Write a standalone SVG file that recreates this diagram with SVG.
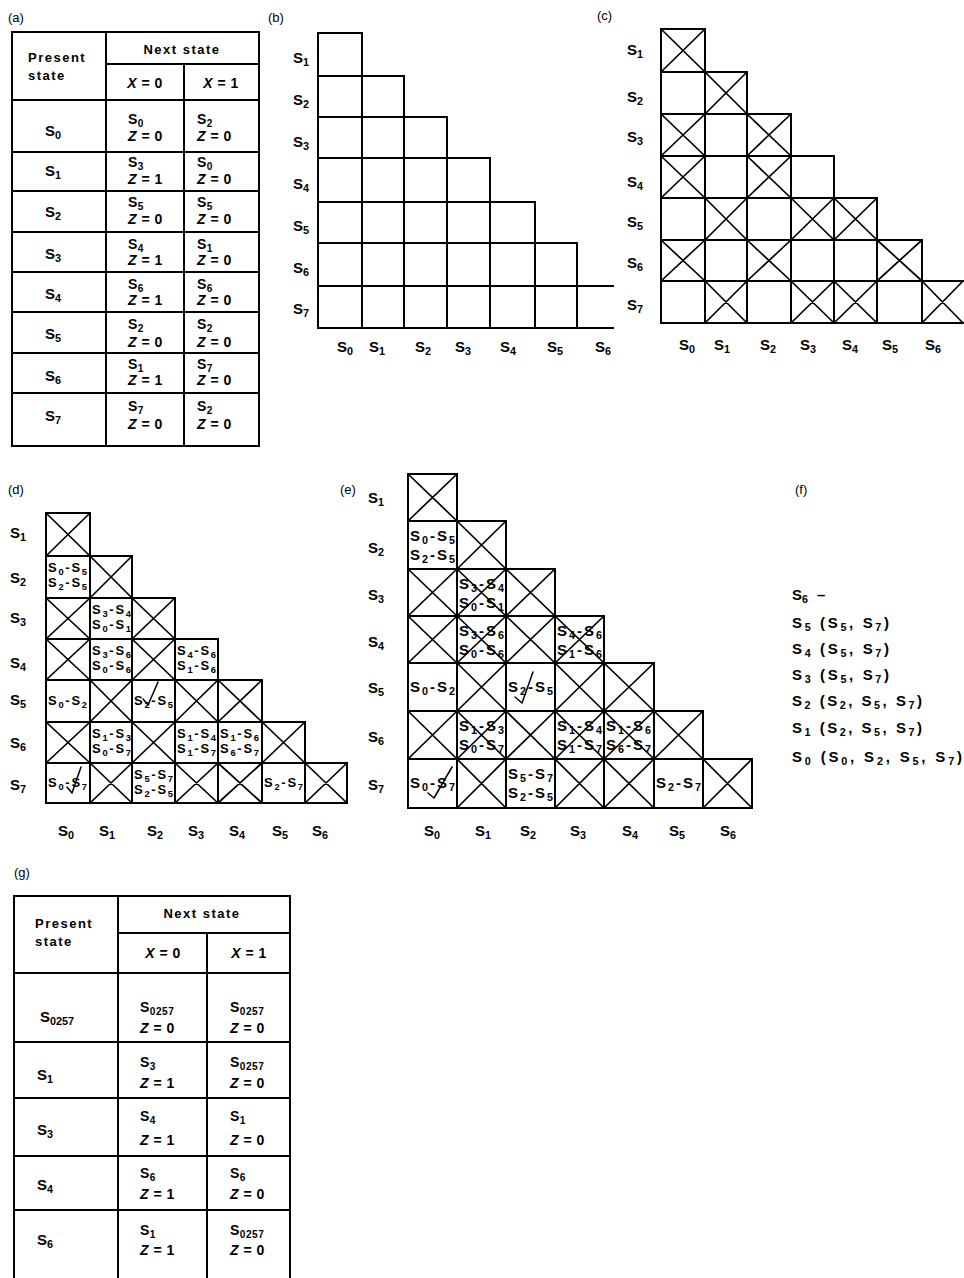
<svg xmlns="http://www.w3.org/2000/svg" width="964" height="1278" viewBox="0 0 964 1278">
<style>
.ln{fill:none;stroke:#000;stroke-width:2;stroke-linecap:square}
.x{fill:none;stroke:#000;stroke-width:1.7}
.ck{fill:none;stroke:#000;stroke-width:1.5;stroke-linejoin:round;stroke-linecap:round}
text{font-family:"Liberation Sans",Arial,sans-serif;font-weight:bold;fill:#000}
.u{font-size:0.72em;baseline-shift:-3px}
.pl{font-size:13px;font-weight:normal}
.h{font-size:13px;letter-spacing:1.5px}
.c{font-size:14px;letter-spacing:0.5px}
.lb{font-size:15px}
.ct{font-size:13px}
.et{font-size:15px}
.fl{font-size:15px}
.m{text-anchor:middle}
.i{font-style:italic}
</style>

<g id="panel-a">
<text class="pl" x="8" y="22">(a)</text>
<path class="ln" d="M12 32 H259 V446 H12 Z M106 32 V446 M184 64 V446 M106 64 H259 M12 100 H259 M12 152 H259 M12 191 H259 M12 232 H259 M12 272 H259 M12 312 H259 M12 353 H259 M12 393 H259"/>
<text class="h" x="28" y="62">Present</text>
<text class="h" x="28" y="80">state</text>
<text class="h m" x="182" y="54">Next state</text>
<text class="c m" x="145" y="88"><tspan class="i">X</tspan> = 0</text>
<text class="c m" x="221" y="88"><tspan class="i">X</tspan> = 1</text>
<text class="lb" x="45" y="136">S<tspan class="u">0</tspan></text>
<text class="c" x="128" y="124">S<tspan class="u">0</tspan></text>
<text class="c" x="128" y="141"><tspan class="i">Z</tspan> = 0</text>
<text class="c" x="197" y="124">S<tspan class="u">2</tspan></text>
<text class="c" x="197" y="141"><tspan class="i">Z</tspan> = 0</text>
<text class="lb" x="45" y="176">S<tspan class="u">1</tspan></text>
<text class="c" x="128" y="167">S<tspan class="u">3</tspan></text>
<text class="c" x="128" y="184"><tspan class="i">Z</tspan> = 1</text>
<text class="c" x="197" y="167">S<tspan class="u">0</tspan></text>
<text class="c" x="197" y="184"><tspan class="i">Z</tspan> = 0</text>
<text class="lb" x="45" y="217">S<tspan class="u">2</tspan></text>
<text class="c" x="128" y="207">S<tspan class="u">5</tspan></text>
<text class="c" x="128" y="224"><tspan class="i">Z</tspan> = 0</text>
<text class="c" x="197" y="207">S<tspan class="u">5</tspan></text>
<text class="c" x="197" y="224"><tspan class="i">Z</tspan> = 0</text>
<text class="lb" x="45" y="259">S<tspan class="u">3</tspan></text>
<text class="c" x="128" y="249">S<tspan class="u">4</tspan></text>
<text class="c" x="128" y="265"><tspan class="i">Z</tspan> = 1</text>
<text class="c" x="197" y="249">S<tspan class="u">1</tspan></text>
<text class="c" x="197" y="265"><tspan class="i">Z</tspan> = 0</text>
<text class="lb" x="45" y="299">S<tspan class="u">4</tspan></text>
<text class="c" x="128" y="289">S<tspan class="u">6</tspan></text>
<text class="c" x="128" y="305"><tspan class="i">Z</tspan> = 1</text>
<text class="c" x="197" y="289">S<tspan class="u">6</tspan></text>
<text class="c" x="197" y="305"><tspan class="i">Z</tspan> = 0</text>
<text class="lb" x="45" y="339">S<tspan class="u">5</tspan></text>
<text class="c" x="128" y="329">S<tspan class="u">2</tspan></text>
<text class="c" x="128" y="347"><tspan class="i">Z</tspan> = 0</text>
<text class="c" x="197" y="329">S<tspan class="u">2</tspan></text>
<text class="c" x="197" y="347"><tspan class="i">Z</tspan> = 0</text>
<text class="lb" x="45" y="381">S<tspan class="u">6</tspan></text>
<text class="c" x="128" y="369">S<tspan class="u">1</tspan></text>
<text class="c" x="128" y="385"><tspan class="i">Z</tspan> = 1</text>
<text class="c" x="197" y="369">S<tspan class="u">7</tspan></text>
<text class="c" x="197" y="385"><tspan class="i">Z</tspan> = 0</text>
<text class="lb" x="45" y="421">S<tspan class="u">7</tspan></text>
<text class="c" x="128" y="411">S<tspan class="u">7</tspan></text>
<text class="c" x="128" y="429"><tspan class="i">Z</tspan> = 0</text>
<text class="c" x="197" y="411">S<tspan class="u">2</tspan></text>
<text class="c" x="197" y="429"><tspan class="i">Z</tspan> = 0</text>
</g>

<g id="panel-b">
<text class="pl" x="268" y="22">(b)</text>
<path class="ln" d="M318 33 H362 M318 76 H404 M318 117 H447 M318 158 H490 M318 202 H535 M318 243 H577 M318 286 H613 M318 328 H613 M318 33 V328 M362 33 V328 M404 76 V328 M447 117 V328 M490 158 V328 M535 202 V328 M577 243 V328"/>
<text class="lb" x="293" y="63">S<tspan class="u">1</tspan></text>
<text class="lb" x="293" y="105">S<tspan class="u">2</tspan></text>
<text class="lb" x="293" y="147">S<tspan class="u">3</tspan></text>
<text class="lb" x="293" y="189">S<tspan class="u">4</tspan></text>
<text class="lb" x="293" y="231">S<tspan class="u">5</tspan></text>
<text class="lb" x="293" y="273">S<tspan class="u">6</tspan></text>
<text class="lb" x="293" y="314">S<tspan class="u">7</tspan></text>
<text class="lb m" x="345" y="352">S<tspan class="u">0</tspan></text>
<text class="lb m" x="377" y="352">S<tspan class="u">1</tspan></text>
<text class="lb m" x="423" y="352">S<tspan class="u">2</tspan></text>
<text class="lb m" x="463" y="352">S<tspan class="u">3</tspan></text>
<text class="lb m" x="508" y="352">S<tspan class="u">4</tspan></text>
<text class="lb m" x="555" y="352">S<tspan class="u">5</tspan></text>
<text class="lb m" x="603" y="352">S<tspan class="u">6</tspan></text>
</g>

<g id="panel-c">
<text class="pl" x="597" y="20">(c)</text>
<path class="ln" d="M661 29 H705 M661 72 H747 M661 114 H791 M661 156 H834 M661 198 H877 M661 240 H922 M661 281 H963 M661 323 H963 M661 29 V323 M705 29 V323 M747 72 V323 M791 114 V323 M834 156 V323 M877 198 V323 M922 240 V323"/>
<path class="x" d="M661 29 L705 72 M705 29 L661 72 M705 72 L747 114 M747 72 L705 114 M661 114 L705 156 M705 114 L661 156 M747 114 L791 156 M791 114 L747 156 M661 156 L705 198 M705 156 L661 198 M747 156 L791 198 M791 156 L747 198 M705 198 L747 240 M747 198 L705 240 M791 198 L834 240 M834 198 L791 240 M834 198 L877 240 M877 198 L834 240 M661 240 L705 281 M705 240 L661 281 M747 240 L791 281 M791 240 L747 281 M877 240 L922 281 M922 240 L877 281 M705 281 L747 323 M747 281 L705 323 M791 281 L834 323 M834 281 L791 323 M834 281 L877 323 M877 281 L834 323 M922 281 L963 323 M963 281 L922 323"/>
<text class="lb" x="627" y="55">S<tspan class="u">1</tspan></text>
<text class="lb" x="627" y="102">S<tspan class="u">2</tspan></text>
<text class="lb" x="627" y="142">S<tspan class="u">3</tspan></text>
<text class="lb" x="627" y="187">S<tspan class="u">4</tspan></text>
<text class="lb" x="627" y="227">S<tspan class="u">5</tspan></text>
<text class="lb" x="627" y="268">S<tspan class="u">6</tspan></text>
<text class="lb" x="627" y="310">S<tspan class="u">7</tspan></text>
<text class="lb m" x="687" y="350">S<tspan class="u">0</tspan></text>
<text class="lb m" x="722" y="350">S<tspan class="u">1</tspan></text>
<text class="lb m" x="768" y="350">S<tspan class="u">2</tspan></text>
<text class="lb m" x="808" y="350">S<tspan class="u">3</tspan></text>
<text class="lb m" x="850" y="350">S<tspan class="u">4</tspan></text>
<text class="lb m" x="890" y="350">S<tspan class="u">5</tspan></text>
<text class="lb m" x="933" y="350">S<tspan class="u">6</tspan></text>
</g>

<g id="panel-d">
<text class="pl" x="8" y="494">(d)</text>
<path class="ln" d="M46 513 H90 M46 556 H132 M46 598 H175 M46 639 H218 M46 680 H262 M46 722 H305 M46 763 H347 M46 803 H347 M46 513 V803 M90 513 V803 M132 556 V803 M175 598 V803 M218 639 V803 M262 680 V803 M305 722 V803 M347 763 V803"/>
<path class="x" d="M46 513 L90 556 M90 513 L46 556 M90 556 L132 598 M132 556 L90 598 M46 598 L90 639 M90 598 L46 639 M132 598 L175 639 M175 598 L132 639 M46 639 L90 680 M90 639 L46 680 M132 639 L175 680 M175 639 L132 680 M90 680 L132 722 M132 680 L90 722 M175 680 L218 722 M218 680 L175 722 M218 680 L262 722 M262 680 L218 722 M46 722 L90 763 M90 722 L46 763 M132 722 L175 763 M175 722 L132 763 M262 722 L305 763 M305 722 L262 763 M90 763 L132 803 M132 763 L90 803 M175 763 L218 803 M218 763 L175 803 M218 763 L262 803 M262 763 L218 803 M305 763 L347 803 M347 763 L305 803"/>
<text class="ct" x="48" y="572" textLength="39">S<tspan class="u">0</tspan>-S<tspan class="u">5</tspan></text>
<text class="ct" x="48" y="587" textLength="39">S<tspan class="u">2</tspan>-S<tspan class="u">5</tspan></text>
<text class="ct" x="92" y="614" textLength="39">S<tspan class="u">3</tspan>-S<tspan class="u">4</tspan></text>
<text class="ct" x="92" y="629" textLength="39">S<tspan class="u">0</tspan>-S<tspan class="u">1</tspan></text>
<text class="ct" x="92" y="655" textLength="39">S<tspan class="u">3</tspan>-S<tspan class="u">6</tspan></text>
<text class="ct" x="92" y="670" textLength="39">S<tspan class="u">0</tspan>-S<tspan class="u">6</tspan></text>
<text class="ct" x="177" y="655" textLength="39">S<tspan class="u">4</tspan>-S<tspan class="u">6</tspan></text>
<text class="ct" x="177" y="670" textLength="39">S<tspan class="u">1</tspan>-S<tspan class="u">6</tspan></text>
<text class="ct" x="48" y="705" textLength="39">S<tspan class="u">0</tspan>-S<tspan class="u">2</tspan></text>
<text class="ct" x="134" y="705" textLength="39">S<tspan class="u">2</tspan>-S<tspan class="u">5</tspan></text>
<text class="ct" x="92" y="738" textLength="39">S<tspan class="u">1</tspan>-S<tspan class="u">3</tspan></text>
<text class="ct" x="92" y="753" textLength="39">S<tspan class="u">0</tspan>-S<tspan class="u">7</tspan></text>
<text class="ct" x="177" y="738" textLength="39">S<tspan class="u">1</tspan>-S<tspan class="u">4</tspan></text>
<text class="ct" x="177" y="753" textLength="39">S<tspan class="u">1</tspan>-S<tspan class="u">7</tspan></text>
<text class="ct" x="220" y="738" textLength="39">S<tspan class="u">1</tspan>-S<tspan class="u">6</tspan></text>
<text class="ct" x="220" y="753" textLength="39">S<tspan class="u">6</tspan>-S<tspan class="u">7</tspan></text>
<text class="ct" x="48" y="787" textLength="39">S<tspan class="u">0</tspan>-S<tspan class="u">7</tspan></text>
<text class="ct" x="134" y="779" textLength="39">S<tspan class="u">5</tspan>-S<tspan class="u">7</tspan></text>
<text class="ct" x="134" y="794" textLength="39">S<tspan class="u">2</tspan>-S<tspan class="u">5</tspan></text>
<text class="ct" x="264" y="787" textLength="39">S<tspan class="u">2</tspan>-S<tspan class="u">7</tspan></text>
<path class="ck" d="M143 699 L148 705 L158 682 M67 787 L72 793 L81 767"/>
<text class="lb" x="10" y="538">S<tspan class="u">1</tspan></text>
<text class="lb" x="10" y="583">S<tspan class="u">2</tspan></text>
<text class="lb" x="10" y="623">S<tspan class="u">3</tspan></text>
<text class="lb" x="10" y="668">S<tspan class="u">4</tspan></text>
<text class="lb" x="10" y="705">S<tspan class="u">5</tspan></text>
<text class="lb" x="10" y="748">S<tspan class="u">6</tspan></text>
<text class="lb" x="10" y="790">S<tspan class="u">7</tspan></text>
<text class="lb m" x="66" y="836">S<tspan class="u">0</tspan></text>
<text class="lb m" x="107" y="836">S<tspan class="u">1</tspan></text>
<text class="lb m" x="155" y="836">S<tspan class="u">2</tspan></text>
<text class="lb m" x="196" y="836">S<tspan class="u">3</tspan></text>
<text class="lb m" x="237" y="836">S<tspan class="u">4</tspan></text>
<text class="lb m" x="280" y="836">S<tspan class="u">5</tspan></text>
<text class="lb m" x="320" y="836">S<tspan class="u">6</tspan></text>
</g>

<g id="panel-e">
<text class="pl" x="340" y="494">(e)</text>
<text class="et" x="410" y="541" textLength="45">S<tspan class="u">0</tspan>-S<tspan class="u">5</tspan></text>
<text class="et" x="410" y="560" textLength="45">S<tspan class="u">2</tspan>-S<tspan class="u">5</tspan></text>
<text class="et" x="459" y="589" textLength="45">S<tspan class="u">3</tspan>-S<tspan class="u">4</tspan></text>
<text class="et" x="459" y="608" textLength="45">S<tspan class="u">0</tspan>-S<tspan class="u">1</tspan></text>
<text class="et" x="459" y="636" textLength="45">S<tspan class="u">3</tspan>-S<tspan class="u">6</tspan></text>
<text class="et" x="459" y="655" textLength="45">S<tspan class="u">0</tspan>-S<tspan class="u">6</tspan></text>
<text class="et" x="557" y="636" textLength="45">S<tspan class="u">4</tspan>-S<tspan class="u">6</tspan></text>
<text class="et" x="557" y="655" textLength="45">S<tspan class="u">1</tspan>-S<tspan class="u">6</tspan></text>
<text class="et" x="410" y="692" textLength="45">S<tspan class="u">0</tspan>-S<tspan class="u">2</tspan></text>
<text class="et" x="508" y="692" textLength="45">S<tspan class="u">2</tspan>-S<tspan class="u">5</tspan></text>
<text class="et" x="459" y="731" textLength="45">S<tspan class="u">1</tspan>-S<tspan class="u">3</tspan></text>
<text class="et" x="459" y="750" textLength="45">S<tspan class="u">0</tspan>-S<tspan class="u">7</tspan></text>
<text class="et" x="557" y="731" textLength="45">S<tspan class="u">1</tspan>-S<tspan class="u">4</tspan></text>
<text class="et" x="557" y="750" textLength="45">S<tspan class="u">1</tspan>-S<tspan class="u">7</tspan></text>
<text class="et" x="606" y="731" textLength="45">S<tspan class="u">1</tspan>-S<tspan class="u">6</tspan></text>
<text class="et" x="606" y="750" textLength="45">S<tspan class="u">6</tspan>-S<tspan class="u">7</tspan></text>
<text class="et" x="410" y="788" textLength="45">S<tspan class="u">0</tspan>-S<tspan class="u">7</tspan></text>
<text class="et" x="508" y="779" textLength="45">S<tspan class="u">5</tspan>-S<tspan class="u">7</tspan></text>
<text class="et" x="508" y="798" textLength="45">S<tspan class="u">2</tspan>-S<tspan class="u">5</tspan></text>
<text class="et" x="656" y="788" textLength="45">S<tspan class="u">2</tspan>-S<tspan class="u">7</tspan></text>
<path class="ln" d="M408 474 H457 M408 521 H506 M408 569 H555 M408 616 H604 M408 663 H654 M408 711 H703 M408 759 H752 M408 808 H752 M408 474 V808 M457 474 V808 M506 521 V808 M555 569 V808 M604 616 V808 M654 663 V808 M703 711 V808 M752 759 V808"/>
<path class="x" d="M408 474 L457 521 M457 474 L408 521 M457 521 L506 569 M506 521 L457 569 M408 569 L457 616 M457 569 L408 616 M457 569 L506 616 M506 569 L457 616 M506 569 L555 616 M555 569 L506 616 M408 616 L457 663 M457 616 L408 663 M457 616 L506 663 M506 616 L457 663 M506 616 L555 663 M555 616 L506 663 M555 616 L604 663 M604 616 L555 663 M457 663 L506 711 M506 663 L457 711 M555 663 L604 711 M604 663 L555 711 M604 663 L654 711 M654 663 L604 711 M408 711 L457 759 M457 711 L408 759 M457 711 L506 759 M506 711 L457 759 M506 711 L555 759 M555 711 L506 759 M555 711 L604 759 M604 711 L555 759 M604 711 L654 759 M654 711 L604 759 M654 711 L703 759 M703 711 L654 759 M457 759 L506 808 M506 759 L457 808 M555 759 L604 808 M604 759 L555 808 M604 759 L654 808 M654 759 L604 808 M703 759 L752 808 M752 759 L703 808"/>
<path class="ck" d="M515 697 L522 703 L533 672 M428 793 L434 798 L452 767"/>
<text class="lb" x="368" y="503">S<tspan class="u">1</tspan></text>
<text class="lb" x="368" y="553">S<tspan class="u">2</tspan></text>
<text class="lb" x="368" y="600">S<tspan class="u">3</tspan></text>
<text class="lb" x="368" y="647">S<tspan class="u">4</tspan></text>
<text class="lb" x="368" y="693">S<tspan class="u">5</tspan></text>
<text class="lb" x="368" y="742">S<tspan class="u">6</tspan></text>
<text class="lb" x="368" y="790">S<tspan class="u">7</tspan></text>
<text class="lb m" x="432" y="836">S<tspan class="u">0</tspan></text>
<text class="lb m" x="483" y="836">S<tspan class="u">1</tspan></text>
<text class="lb m" x="528" y="836">S<tspan class="u">2</tspan></text>
<text class="lb m" x="578" y="836">S<tspan class="u">3</tspan></text>
<text class="lb m" x="630" y="836">S<tspan class="u">4</tspan></text>
<text class="lb m" x="677" y="836">S<tspan class="u">5</tspan></text>
<text class="lb m" x="728" y="836">S<tspan class="u">6</tspan></text>
</g>

<g id="panel-f">
<text class="pl" x="795" y="494">(f)</text>
<text class="fl" x="792" y="600">S<tspan class="u">6</tspan><tspan dx="9">–</tspan></text>
<text class="fl" x="792" y="628" textLength="97">S<tspan class="u">5</tspan> (S<tspan class="u">5</tspan>, S<tspan class="u">7</tspan>)</text>
<text class="fl" x="792" y="654" textLength="97">S<tspan class="u">4</tspan> (S<tspan class="u">5</tspan>, S<tspan class="u">7</tspan>)</text>
<text class="fl" x="792" y="680" textLength="97">S<tspan class="u">3</tspan> (S<tspan class="u">5</tspan>, S<tspan class="u">7</tspan>)</text>
<text class="fl" x="792" y="706" textLength="130">S<tspan class="u">2</tspan> (S<tspan class="u">2</tspan>, S<tspan class="u">5</tspan>, S<tspan class="u">7</tspan>)</text>
<text class="fl" x="792" y="733" textLength="130">S<tspan class="u">1</tspan> (S<tspan class="u">2</tspan>, S<tspan class="u">5</tspan>, S<tspan class="u">7</tspan>)</text>
<text class="fl" x="792" y="762" textLength="170">S<tspan class="u">0</tspan> (S<tspan class="u">0</tspan>, S<tspan class="u">2</tspan>, S<tspan class="u">5</tspan>, S<tspan class="u">7</tspan>)</text>
</g>

<g id="panel-g">
<text class="pl" x="14" y="877">(g)</text>
<path class="ln" d="M14 896 H290 M118 933 H290 M14 973 H290 M14 1042 H290 M14 1098 H290 M14 1156 H290 M14 1210 H290 M14 896 V1280 M118 896 V1280 M207 933 V1280 M290 896 V1280"/>
<text class="h" x="35" y="928">Present</text>
<text class="h" x="35" y="946">state</text>
<text class="h m" x="202" y="918">Next state</text>
<text class="c m" x="163" y="958"><tspan class="i">X</tspan> = 0</text>
<text class="c m" x="249" y="958"><tspan class="i">X</tspan> = 1</text>
<text class="lb" x="40" y="1022">S<tspan class="u">0257</tspan></text>
<text class="c" x="140" y="1012">S<tspan class="u">0257</tspan></text>
<text class="c" x="140" y="1033"><tspan class="i">Z</tspan> = 0</text>
<text class="c" x="230" y="1012">S<tspan class="u">0257</tspan></text>
<text class="c" x="230" y="1033"><tspan class="i">Z</tspan> = 0</text>
<text class="lb" x="37" y="1080">S<tspan class="u">1</tspan></text>
<text class="c" x="140" y="1067">S<tspan class="u">3</tspan></text>
<text class="c" x="140" y="1088"><tspan class="i">Z</tspan> = 1</text>
<text class="c" x="230" y="1067">S<tspan class="u">0257</tspan></text>
<text class="c" x="230" y="1088"><tspan class="i">Z</tspan> = 0</text>
<text class="lb" x="37" y="1135">S<tspan class="u">3</tspan></text>
<text class="c" x="140" y="1121">S<tspan class="u">4</tspan></text>
<text class="c" x="140" y="1145"><tspan class="i">Z</tspan> = 1</text>
<text class="c" x="230" y="1121">S<tspan class="u">1</tspan></text>
<text class="c" x="230" y="1145"><tspan class="i">Z</tspan> = 0</text>
<text class="lb" x="37" y="1190">S<tspan class="u">4</tspan></text>
<text class="c" x="140" y="1178">S<tspan class="u">6</tspan></text>
<text class="c" x="140" y="1199"><tspan class="i">Z</tspan> = 1</text>
<text class="c" x="230" y="1178">S<tspan class="u">6</tspan></text>
<text class="c" x="230" y="1199"><tspan class="i">Z</tspan> = 0</text>
<text class="lb" x="37" y="1245">S<tspan class="u">6</tspan></text>
<text class="c" x="140" y="1235">S<tspan class="u">1</tspan></text>
<text class="c" x="140" y="1255"><tspan class="i">Z</tspan> = 1</text>
<text class="c" x="230" y="1235">S<tspan class="u">0257</tspan></text>
<text class="c" x="230" y="1255"><tspan class="i">Z</tspan> = 0</text>
</g>
</svg>
